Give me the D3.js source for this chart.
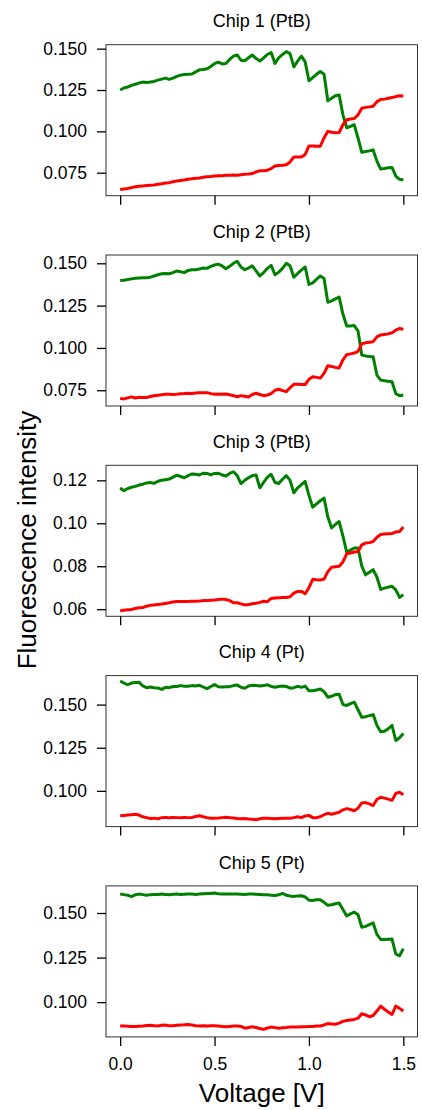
<!DOCTYPE html>
<html>
<head>
<meta charset="utf-8">
<script src="https://cdn.jsdelivr.net/npm/d3@7"></script>
<style>
  body { margin: 0; background: #fff; }
  text { font-family: "Liberation Sans", Arial, sans-serif; fill: #000; }
</style>
</head>
<body>
<svg id="chart" width="422" height="1110"></svg>
<script>

// x values shared by every panel (V)
var voltage = [0.00, 0.02, 0.04, 0.06, 0.08, 0.10, 0.12, 0.14, 0.16, 0.18,
    0.20, 0.22, 0.24, 0.26, 0.28, 0.30, 0.32, 0.34, 0.36, 0.38,
    0.40, 0.42, 0.44, 0.46, 0.48, 0.50, 0.52, 0.54, 0.56, 0.58,
    0.60, 0.62, 0.64, 0.66, 0.68, 0.70, 0.72, 0.74, 0.76, 0.78,
    0.80, 0.82, 0.84, 0.86, 0.88, 0.90, 0.92, 0.94, 0.96, 0.98,
    1.00, 1.02, 1.04, 1.06, 1.08, 1.10, 1.12, 1.14, 1.16, 1.18,
    1.20, 1.22, 1.24, 1.26, 1.28, 1.30, 1.32, 1.34, 1.36, 1.38,
    1.40, 1.42, 1.44, 1.46, 1.48, 1.50];

var chipTitles = ["Chip 1 (PtB)", "Chip 2 (PtB)", "Chip 3 (PtB)", "Chip 4 (Pt)", "Chip 5 (Pt)"];

var green1 = [0.1250, 0.1262, 0.1268, 0.1278, 0.1285, 0.1292, 0.1298, 0.1296, 0.1298, 0.1302,
    0.1310, 0.1316, 0.1322, 0.1314, 0.1322, 0.1332, 0.1340, 0.1344, 0.1345, 0.1347,
    0.1360, 0.1372, 0.1374, 0.1378, 0.1392, 0.1410, 0.1419, 0.1408, 0.1410, 0.1435,
    0.1455, 0.1462, 0.1430, 0.1427, 0.1445, 0.1462, 0.1440, 0.1425, 0.1445, 0.1465,
    0.1477, 0.1410, 0.1445, 0.1465, 0.1482, 0.1470, 0.1390, 0.1425, 0.1455, 0.1420,
    0.1306, 0.1325, 0.1345, 0.1362, 0.1345, 0.1185, 0.1200, 0.1215, 0.1220, 0.1100,
    0.1022, 0.1030, 0.1040, 0.0960, 0.0873, 0.0878, 0.0882, 0.0888, 0.0820, 0.0772,
    0.0775, 0.0780, 0.0782, 0.0730, 0.0710, 0.0708];
var red1 = [0.0648, 0.0652, 0.0655, 0.0660, 0.0665, 0.0668, 0.0670, 0.0672, 0.0674, 0.0676,
    0.0680, 0.0683, 0.0688, 0.0690, 0.0695, 0.0700, 0.0703, 0.0706, 0.0710, 0.0713,
    0.0716, 0.0718, 0.0722, 0.0725, 0.0727, 0.0730, 0.0731, 0.0732, 0.0735, 0.0735,
    0.0736, 0.0735, 0.0738, 0.0740, 0.0742, 0.0745, 0.0755, 0.0762, 0.0762, 0.0765,
    0.0775, 0.0790, 0.0793, 0.0795, 0.0798, 0.0815, 0.0845, 0.0845, 0.0845, 0.0860,
    0.0912, 0.0912, 0.0910, 0.0910, 0.0960, 0.1000, 0.0995, 0.0992, 0.0993, 0.1040,
    0.1070, 0.1075, 0.1078, 0.1100, 0.1140, 0.1145, 0.1148, 0.1152, 0.1180, 0.1192,
    0.1195, 0.1200, 0.1205, 0.1210, 0.1215, 0.1214];

var green2 = [0.1398, 0.1400, 0.1404, 0.1408, 0.1411, 0.1413, 0.1414, 0.1414, 0.1418, 0.1425,
    0.1432, 0.1438, 0.1440, 0.1438, 0.1445, 0.1455, 0.1450, 0.1445, 0.1458, 0.1462,
    0.1462, 0.1466, 0.1472, 0.1470, 0.1482, 0.1490, 0.1495, 0.1485, 0.1468, 0.1482,
    0.1500, 0.1512, 0.1478, 0.1462, 0.1472, 0.1485, 0.1455, 0.1425, 0.1445, 0.1470,
    0.1488, 0.1432, 0.1448, 0.1470, 0.1500, 0.1485, 0.1418, 0.1440, 0.1460, 0.1478,
    0.1375, 0.1385, 0.1405, 0.1425, 0.1410, 0.1270, 0.1278, 0.1290, 0.1300, 0.1200,
    0.1130, 0.1130, 0.1132, 0.1100, 0.0958, 0.0953, 0.0950, 0.0948, 0.0840, 0.0810,
    0.0806, 0.0803, 0.0800, 0.0730, 0.0718, 0.0722];
var red2 = [0.0702, 0.0699, 0.0705, 0.0711, 0.0704, 0.0708, 0.0707, 0.0707, 0.0713, 0.0718,
    0.0720, 0.0724, 0.0726, 0.0726, 0.0725, 0.0727, 0.0730, 0.0731, 0.0733, 0.0731,
    0.0734, 0.0736, 0.0735, 0.0736, 0.0730, 0.0726, 0.0728, 0.0727, 0.0728, 0.0723,
    0.0718, 0.0712, 0.0718, 0.0715, 0.0710, 0.0725, 0.0732, 0.0725, 0.0718, 0.0722,
    0.0730, 0.0750, 0.0756, 0.0748, 0.0742, 0.0765, 0.0785, 0.0785, 0.0784, 0.0784,
    0.0815, 0.0830, 0.0826, 0.0822, 0.0850, 0.0895, 0.0890, 0.0885, 0.0882, 0.0930,
    0.0960, 0.0965, 0.0970, 0.0980, 0.1025, 0.1030, 0.1033, 0.1037, 0.1065, 0.1077,
    0.1080, 0.1083, 0.1090, 0.1105, 0.1115, 0.1110];

var green3 = [0.1164, 0.1152, 0.1162, 0.1168, 0.1172, 0.1178, 0.1182, 0.1188, 0.1190, 0.1186,
    0.1196, 0.1200, 0.1203, 0.1206, 0.1215, 0.1224, 0.1218, 0.1212, 0.1222, 0.1230,
    0.1228, 0.1225, 0.1233, 0.1232, 0.1225, 0.1232, 0.1233, 0.1225, 0.1220, 0.1232,
    0.1240, 0.1222, 0.1185, 0.1200, 0.1212, 0.1222, 0.1225, 0.1165, 0.1190, 0.1215,
    0.1228, 0.1190, 0.1185, 0.1205, 0.1222, 0.1200, 0.1142, 0.1165, 0.1180, 0.1195,
    0.1130, 0.1075, 0.1090, 0.1105, 0.1117, 0.1030, 0.0978, 0.0995, 0.1008, 0.0940,
    0.0866, 0.0875, 0.0885, 0.0885, 0.0800, 0.0760, 0.0772, 0.0784, 0.0750, 0.0692,
    0.0698, 0.0703, 0.0707, 0.0690, 0.0655, 0.0668];
var red3 = [0.0593, 0.0595, 0.0597, 0.0599, 0.0603, 0.0607, 0.0608, 0.0614, 0.0618, 0.0620,
    0.0622, 0.0624, 0.0627, 0.0630, 0.0634, 0.0636, 0.0636, 0.0636, 0.0636, 0.0637,
    0.0637, 0.0638, 0.0640, 0.0640, 0.0642, 0.0643, 0.0645, 0.0647, 0.0645, 0.0640,
    0.0630, 0.0630, 0.0625, 0.0620, 0.0622, 0.0625, 0.0628, 0.0632, 0.0637, 0.0635,
    0.0650, 0.0652, 0.0653, 0.0654, 0.0655, 0.0658, 0.0675, 0.0683, 0.0683, 0.0672,
    0.0700, 0.0739, 0.0737, 0.0736, 0.0740, 0.0775, 0.0795, 0.0798, 0.0800, 0.0820,
    0.0858, 0.0862, 0.0866, 0.0869, 0.0900, 0.0908, 0.0910, 0.0915, 0.0935, 0.0948,
    0.0950, 0.0951, 0.0952, 0.0960, 0.0962, 0.0983];

var green4 = [0.1636, 0.1625, 0.1615, 0.1625, 0.1628, 0.1630, 0.1608, 0.1598, 0.1602, 0.1598,
    0.1596, 0.1588, 0.1600, 0.1598, 0.1605, 0.1605, 0.1610, 0.1606, 0.1606, 0.1610,
    0.1608, 0.1612, 0.1602, 0.1592, 0.1605, 0.1616, 0.1603, 0.1602, 0.1603, 0.1604,
    0.1610, 0.1613, 0.1600, 0.1595, 0.1608, 0.1612, 0.1610, 0.1608, 0.1610, 0.1615,
    0.1605, 0.1600, 0.1605, 0.1608, 0.1605, 0.1595, 0.1598, 0.1606, 0.1600, 0.1607,
    0.1580, 0.1580, 0.1585, 0.1590, 0.1575, 0.1543, 0.1548, 0.1558, 0.1560, 0.1500,
    0.1495, 0.1505, 0.1514, 0.1470, 0.1426, 0.1430, 0.1436, 0.1442, 0.1380, 0.1342,
    0.1345, 0.1360, 0.1380, 0.1292, 0.1308, 0.1333];
var red4 = [0.0856, 0.0858, 0.0860, 0.0862, 0.0864, 0.0860, 0.0850, 0.0845, 0.0840, 0.0842,
    0.0838, 0.0845, 0.0846, 0.0844, 0.0846, 0.0845, 0.0844, 0.0846, 0.0845, 0.0846,
    0.0852, 0.0856, 0.0850, 0.0845, 0.0842, 0.0842, 0.0843, 0.0845, 0.0847, 0.0845,
    0.0843, 0.0840, 0.0838, 0.0840, 0.0837, 0.0835, 0.0833, 0.0838, 0.0842, 0.0842,
    0.0840, 0.0838, 0.0840, 0.0842, 0.0842, 0.0842, 0.0845, 0.0850, 0.0845, 0.0855,
    0.0858, 0.0845, 0.0845, 0.0850, 0.0862, 0.0870, 0.0865, 0.0870, 0.0876, 0.0890,
    0.0897, 0.0892, 0.0885, 0.0900, 0.0930, 0.0932, 0.0925, 0.0915, 0.0950, 0.0963,
    0.0958, 0.0952, 0.0945, 0.0985, 0.0992, 0.0978];

var green5 = [0.1606, 0.1603, 0.1600, 0.1592, 0.1602, 0.1606, 0.1603, 0.1600, 0.1603, 0.1604,
    0.1604, 0.1606, 0.1604, 0.1602, 0.1605, 0.1606, 0.1604, 0.1605, 0.1606, 0.1606,
    0.1604, 0.1606, 0.1608, 0.1609, 0.1610, 0.1612, 0.1608, 0.1606, 0.1607, 0.1606,
    0.1607, 0.1606, 0.1605, 0.1604, 0.1606, 0.1606, 0.1605, 0.1604, 0.1603, 0.1602,
    0.1600, 0.1598, 0.1602, 0.1610, 0.1600, 0.1595, 0.1593, 0.1596, 0.1597, 0.1590,
    0.1572, 0.1570, 0.1575, 0.1574, 0.1560, 0.1543, 0.1546, 0.1552, 0.1556, 0.1520,
    0.1483, 0.1495, 0.1505, 0.1490, 0.1420, 0.1425, 0.1435, 0.1444, 0.1380, 0.1352,
    0.1352, 0.1353, 0.1354, 0.1270, 0.1260, 0.1300];
var red5 = [0.0866, 0.0866, 0.0865, 0.0864, 0.0864, 0.0865, 0.0866, 0.0869, 0.0870, 0.0868,
    0.0866, 0.0870, 0.0872, 0.0867, 0.0868, 0.0870, 0.0872, 0.0873, 0.0875, 0.0872,
    0.0868, 0.0866, 0.0867, 0.0866, 0.0868, 0.0868, 0.0866, 0.0864, 0.0862, 0.0864,
    0.0866, 0.0866, 0.0864, 0.0854, 0.0858, 0.0862, 0.0858, 0.0852, 0.0847, 0.0855,
    0.0860, 0.0857, 0.0854, 0.0857, 0.0858, 0.0860, 0.0860, 0.0861, 0.0862, 0.0862,
    0.0863, 0.0864, 0.0866, 0.0866, 0.0872, 0.0880, 0.0878, 0.0876, 0.0882, 0.0892,
    0.0897, 0.0900, 0.0903, 0.0910, 0.0935, 0.0928, 0.0918, 0.0925, 0.0950, 0.0978,
    0.0960, 0.0945, 0.0931, 0.0978, 0.0965, 0.0950];

var greenSeries = [green1, green2, green3, green4, green5];
var redSeries = [red1, red2, red3, red4, red5];

// axis limits and ticks per panel
var yLimits = [[0.0611, 0.1524], [0.0657, 0.1549], [0.0567, 0.1270], [0.0793, 0.1668], [0.0805, 0.1652]];
var yTicks = [[0.075, 0.100, 0.125, 0.150], [0.075, 0.100, 0.125, 0.150],
    [0.06, 0.08, 0.10, 0.12], [0.100, 0.125, 0.150], [0.100, 0.125, 0.150]];
var yFormats = [".3f", ".3f", ".2f", ".3f", ".3f"];
var xTicks = [0.0, 0.5, 1.0, 1.5];

var svg = d3.select("#chart");

var left = 106, right = 417.5;
var panelTop0 = 44.7, panelStep = 210.3, panelHeight = 151;

var scaleX = d3.scaleLinear().domain([-0.075, 1.575]).range([left, right]);

chipTitles.forEach(function(title, i) {
    var top = panelTop0 + i * panelStep;
    var bottom = top + panelHeight;

    var scaleY = d3.scaleLinear().domain(yLimits[i]).range([bottom, top]);

    var g = svg.append("g").attr("class", "panel");

    var line = d3.line()
        .x(function(d, k) { return scaleX(voltage[k]); })
        .y(function(d) { return scaleY(d); });

    // green first, red drawn over it
    g.append("path")
        .attr("d", line(greenSeries[i]))
        .attr("fill", "none")
        .attr("stroke", "#008000")
        .attr("stroke-width", 3)
        .attr("stroke-linejoin", "round");

    g.append("path")
        .attr("d", line(redSeries[i]))
        .attr("fill", "none")
        .attr("stroke", "#ff0000")
        .attr("stroke-width", 3)
        .attr("stroke-linejoin", "round");

    // frame
    g.append("rect")
        .attr("x", left)
        .attr("y", top)
        .attr("width", right - left)
        .attr("height", panelHeight)
        .attr("fill", "none")
        .attr("stroke", "#333")
        .attr("stroke-width", 1);

    // y axis
    var yAxis = g.append("g")
        .attr("transform", "translate(" + left + ",0)")
        .call(d3.axisLeft(scaleY).tickValues(yTicks[i])
            .tickFormat(d3.format(yFormats[i]))
            .tickSize(9).tickPadding(10));

    // x axis, labels only on the last panel
    var isLast = (i === chipTitles.length - 1);
    var xAxis = g.append("g")
        .attr("transform", "translate(0," + bottom + ")")
        .call(d3.axisBottom(scaleX).tickValues(xTicks)
            .tickFormat(isLast ? d3.format(".1f") : function() { return ""; })
            .tickSize(9).tickPadding(12));

    [yAxis, xAxis].forEach(function(ax) {
        ax.select(".domain").remove();
        ax.selectAll(".tick line").attr("stroke", "#000").attr("stroke-width", 1.3);
        ax.selectAll(".tick text")
            .attr("fill", "#000")
            .style("font-size", "17.5px")
            .style("font-family", "'Liberation Sans', Arial, sans-serif");
    });

    // panel title
    g.append("text")
        .attr("x", (left + right) / 2)
        .attr("y", top - 17.4)
        .attr("text-anchor", "middle")
        .style("font-size", "18px")
        .text(title);
});

// shared axis labels
svg.append("text")
    .attr("x", (left + right) / 2)
    .attr("y", 1102)
    .attr("text-anchor", "middle")
    .style("font-size", "26px")
    .text("Voltage [V]");

svg.append("text")
    .attr("transform", "translate(36,540) rotate(-90)")
    .attr("text-anchor", "middle")
    .style("font-size", "26px")
    .text("Fluorescence intensity");

</script>
</body>
</html>
